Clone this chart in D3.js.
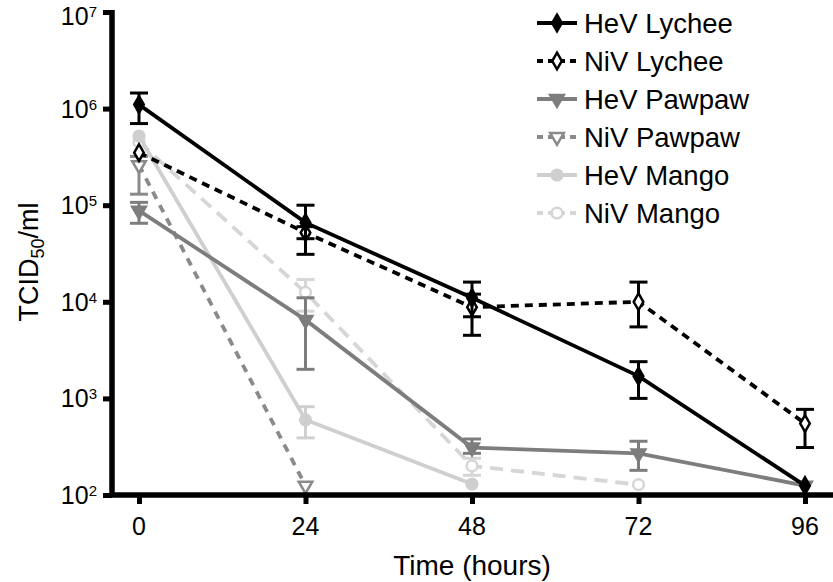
<!DOCTYPE html>
<meta charset="utf-8">
<html>
<style>
body { margin: 0; background: #fff; }
svg { display: block; font-family: "Liberation Sans", Arial, sans-serif; }
.axis-line { stroke: #000; stroke-width: 5.5; }
.tick line { stroke: #000; stroke-width: 5; }
</style>
<body>
<script src="https://cdnjs.cloudflare.com/ajax/libs/d3/7.8.5/d3.min.js"></script>
<script>
	var width = 833;
	var height = 582;

	// data
	var times = [0, 24, 48, 72, 96];
	var xTicks = [0, 24, 48, 72, 96];
	var yTicks = [2, 3, 4, 5, 6, 7];

	var hevLychee = [1.1e6, 6.6e4, 1.1e4, 1.7e3, 125];
	var hevLycheeHi = [1.45e6, 1e5, 1.6e4, 2.4e3, null];
	var hevLycheeLo = [7e5, 4.5e4, 7e3, 1e3, null];

	var nivLychee = [3.5e5, 5.2e4, 8.8e3, 1e4, 550];
	var nivLycheeHi = [null, 6e4, 1.2e4, 1.6e4, 770];
	var nivLycheeLo = [null, 3.1e4, 4.5e3, 5.5e3, 310];

	var hevPawpaw = [8.8e4, 6.5e3, 310, 270, 125];
	var hevPawpawHi = [1.07e5, 1.1e4, 380, 360, null];
	var hevPawpawLo = [6.5e4, 2e3, 270, 180, null];

	var nivPawpaw = [2.6e5, 125];
	var nivPawpawHi = [3.2e5, null];
	var nivPawpawLo = [1.3e5, null];

	var hevMango = [5.2e5, 600, 130];
	var hevMangoHi = [null, 820, null];
	var hevMangoLo = [null, 390, null];

	var nivMango = [4.5e5, 1.25e4, 200, 128];
	var nivMangoHi = [null, 1.7e4, 240, null];
	var nivMangoLo = [null, 8e3, 160, null];

	var series = [
		{name: "HeV Lychee", vals: hevLychee, hi: hevLycheeHi, lo: hevLycheeLo, color: "#000", dash: null, shape: d3.symbolDiamond, open: false, rot: 0},
		{name: "NiV Lychee", vals: nivLychee, hi: nivLycheeHi, lo: nivLycheeLo, color: "#000", dash: "8,6", shape: d3.symbolDiamond, open: true, rot: 0},
		{name: "HeV Pawpaw", vals: hevPawpaw, hi: hevPawpawHi, lo: hevPawpawLo, color: "#7d7d7d", dash: null, shape: d3.symbolTriangle, open: false, rot: 180},
		{name: "NiV Pawpaw", vals: nivPawpaw, hi: nivPawpawHi, lo: nivPawpawLo, color: "#8a8a8a", dash: "8,7", shape: d3.symbolTriangle, open: true, rot: 180},
		{name: "HeV Mango", vals: hevMango, hi: hevMangoHi, lo: hevMangoLo, color: "#cfcfcf", dash: null, shape: d3.symbolCircle, open: false, rot: 0},
		{name: "NiV Mango", vals: nivMango, hi: nivMangoHi, lo: nivMangoLo, color: "#d6d6d6", dash: "13,8", shape: d3.symbolCircle, open: true, rot: 0}
	];

	var svg = d3.select("body").append("svg")
		.attr("width", width)
		.attr("height", height);

	var x = d3.scaleLinear().domain([0, 96]).range([139, 805]);
	var y = d3.scaleLog().domain([100, 1e7]).range([495, 12]);

	var line = d3.line()
		.x(d => x(d.t))
		.y(d => y(d.v));

	// series, drawn back to front
	var drawOrder = series.slice().reverse();
	drawOrder.forEach(function(s) {
		var pts = s.vals.map((v, i) => ({t: times[i], v: v, hi: s.hi[i], lo: s.lo[i]}));
		var g = svg.append("g");

		g.append("path")
			.datum(pts)
			.attr("d", line)
			.attr("fill", "none")
			.attr("stroke", s.color)
			.attr("stroke-width", 3.8)
			.attr("stroke-dasharray", s.dash);

		var eb = pts.filter(d => d.hi != null);
		eb.forEach(function(d) {
			var cx = x(d.t);
			g.append("line").attr("x1", cx).attr("x2", cx)
				.attr("y1", y(d.hi)).attr("y2", y(d.lo))
				.attr("stroke", s.color).attr("stroke-width", 3);
			[d.hi, d.lo].forEach(function(e) {
				g.append("line").attr("x1", cx - 9).attr("x2", cx + 9)
					.attr("y1", y(e)).attr("y2", y(e))
					.attr("stroke", s.color).attr("stroke-width", 3);
			});
		});

		g.selectAll("path.pt")
			.data(pts)
			.enter()
			.append("path")
			.attr("class", "pt")
			.attr("transform", d => "translate(" + x(d.t) + "," + y(d.v) + ") rotate(" + s.rot + ")")
			.attr("d", d3.symbol().type(s.shape).size(s.shape === d3.symbolCircle ? 90 : 80))
			.attr("fill", s.open ? "#fff" : s.color)
			.attr("stroke", s.color)
			.attr("stroke-width", 2.5);
	});

	// axes
	svg.append("line").attr("class", "axis-line")
		.attr("x1", 112).attr("x2", 112).attr("y1", 10).attr("y2", 497);
	svg.append("line").attr("class", "axis-line")
		.attr("x1", 110).attr("x2", 833).attr("y1", 495).attr("y2", 495);

	var yAxis = svg.append("g")
		.attr("transform", "translate(112,0)")
		.call(d3.axisLeft(y).tickValues(yTicks.map(p => Math.pow(10, p))).tickSize(9).tickFormat(""));
	yAxis.select(".domain").remove();

	yTicks.forEach(function(p) {
		var t = svg.append("text")
			.attr("x", 97)
			.attr("y", Math.max(y(Math.pow(10, p)) + 9, 25))
			.attr("text-anchor", "end")
			.attr("font-size", 25)
			.attr("fill", "#000");
		t.append("tspan").text("10");
		t.append("tspan").attr("font-size", 15).attr("dy", -8).text(p);
	});

	var xAxis = svg.append("g")
		.attr("transform", "translate(0,495)")
		.call(d3.axisBottom(x).tickValues(xTicks).tickSize(9).tickFormat(""));
	xAxis.select(".domain").remove();

	xTicks.forEach(function(t) {
		svg.append("text")
			.attr("x", x(t))
			.attr("y", 535)
			.attr("text-anchor", "middle")
			.attr("font-size", 25)
			.attr("fill", "#000")
			.text(t);
	});

	svg.append("text")
		.attr("x", x(48))
		.attr("y", 575)
		.attr("text-anchor", "middle")
		.attr("font-size", 28)
		.attr("fill", "#000")
		.text("Time (hours)");

	var yl = svg.append("text")
		.attr("transform", "translate(38,262) rotate(-90)")
		.attr("text-anchor", "middle")
		.attr("font-size", 27)
		.attr("fill", "#000");
	yl.append("tspan").text("TCID");
	yl.append("tspan").attr("font-size", 18).attr("dy", 6).text("50");
	yl.append("tspan").attr("dy", -6).text("/ml");

	// legend
	var legend = svg.append("g");
	series.forEach(function(s, i) {
		var ly = 23 + i * 38;
		var lg = legend.append("g").attr("transform", "translate(0," + ly + ")");
		lg.append("line")
			.attr("x1", 537).attr("x2", 577)
			.attr("stroke", s.color)
			.attr("stroke-width", 3.8)
			.attr("stroke-dasharray", s.dash ? "6,5" : null);
		lg.append("path")
			.attr("transform", "translate(557,0) rotate(" + s.rot + ")")
			.attr("d", d3.symbol().type(s.shape).size(s.shape === d3.symbolCircle ? 90 : 80))
			.attr("fill", s.open ? "#fff" : s.color)
			.attr("stroke", s.color)
			.attr("stroke-width", 2.5);
		lg.append("text")
			.attr("x", 584)
			.attr("y", 10)
			.attr("font-size", 27.5)
			.attr("fill", "#000")
			.text(s.name);
	});
</script>
</body>
</html>
